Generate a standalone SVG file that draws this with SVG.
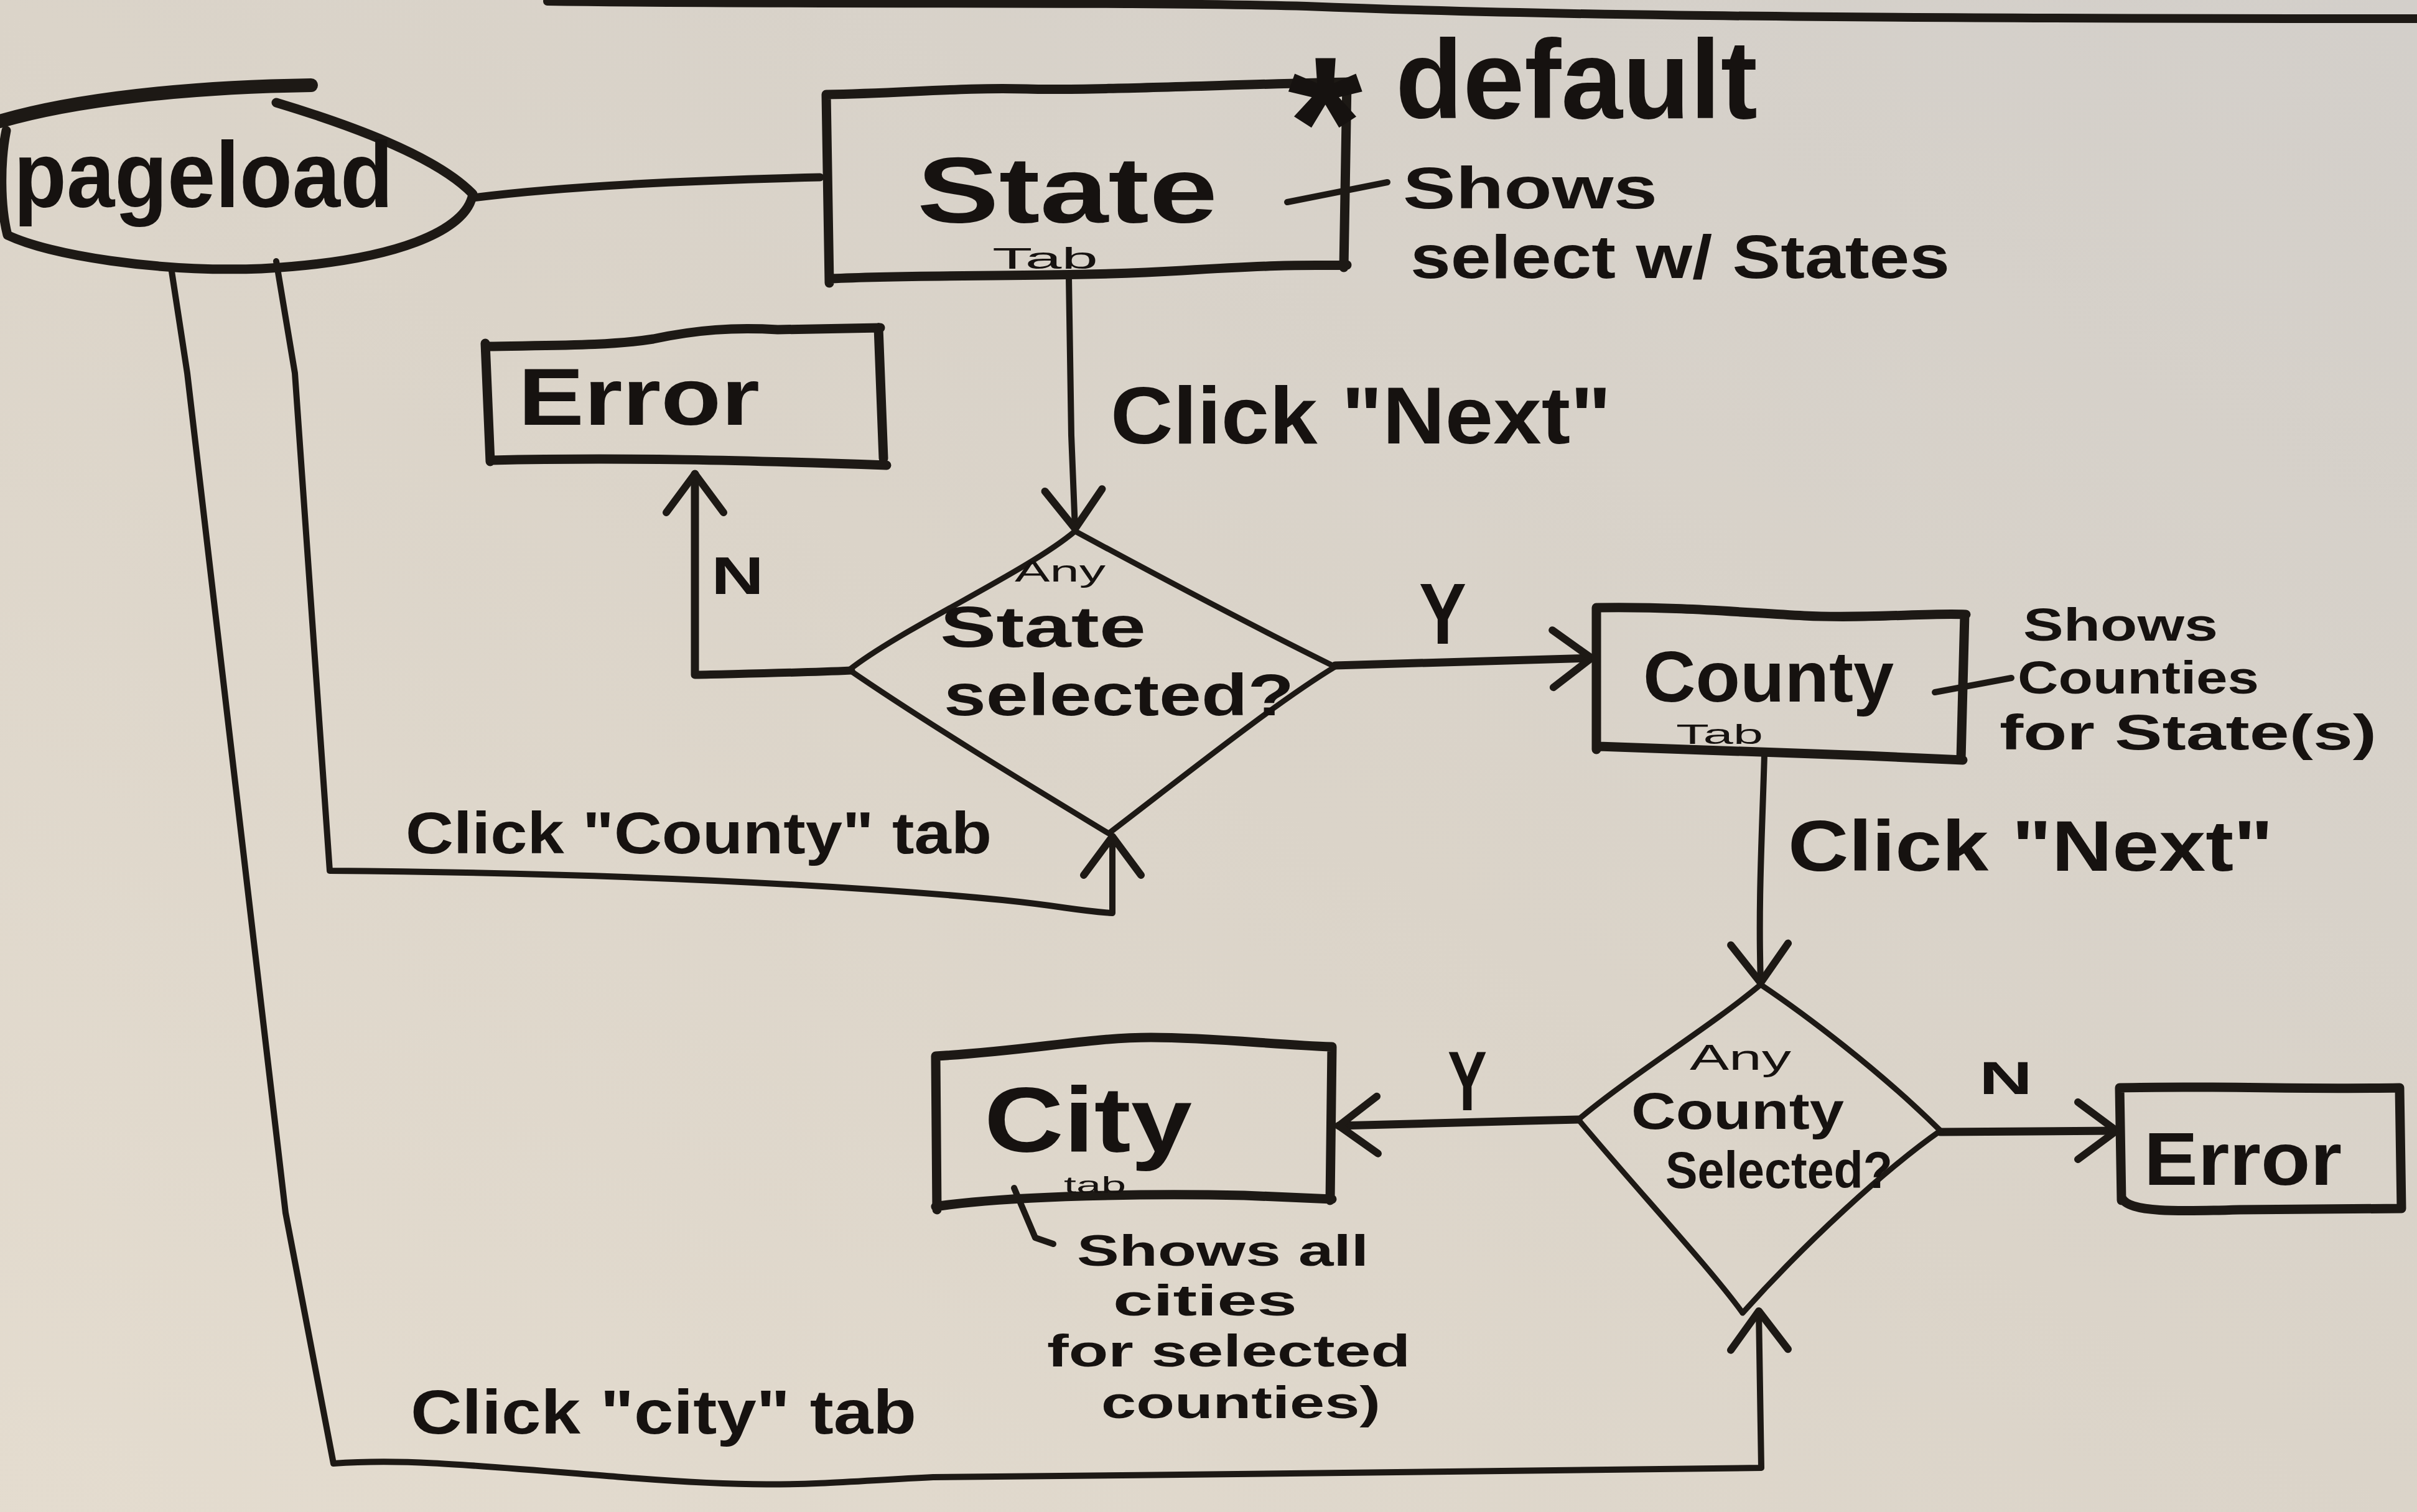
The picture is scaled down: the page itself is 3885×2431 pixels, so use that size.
<svg xmlns="http://www.w3.org/2000/svg" width="3885" height="2431" viewBox="0 0 3885 2431">
<style>
.ln{fill:none;stroke:#1d1915;stroke-linecap:round;stroke-linejoin:round}
.box{stroke-width:15}
.dia{stroke-width:9}
.con{stroke-width:10}
.thk{stroke-width:13}
.t{font-family:"Liberation Sans Narrow","Liberation Sans",Arial,sans-serif;font-weight:bold;fill:#161210}
.n{font-weight:normal}
</style>
<defs>
<linearGradient id="bg" x1="0" y1="1" x2="1" y2="0">
<stop offset="0" stop-color="#e4dccf"/>
<stop offset="0.5" stop-color="#dbd4c9"/>
<stop offset="1" stop-color="#d3cfca"/>
</linearGradient>
<marker id="arr" viewBox="-80 -60 95 120" markerWidth="95" markerHeight="120" refX="0" refY="0" orient="auto" markerUnits="userSpaceOnUse">
<path d="M-62,-46 L0,0 L-62,46" fill="none" stroke="#1d1915" stroke-width="12" stroke-linecap="round" stroke-linejoin="round"/>
</marker>
</defs>
<rect x="0" y="0" width="3885" height="2431" fill="url(#bg)"/>
<path class="ln" stroke-width="14" d="M880 2 C1300 8 1800 2 2100 10 C2400 22 2800 30 3885 30"/>

<g id="connectors">
<path class="ln thk" d="M760 318 C900 300 1100 290 1318 285"/>
<path class="ln con" d="M1718 446 L1722 700 L1728 850" marker-end="url(#arr)"/>
<path class="ln thk" d="M1368 1078 C1280 1082 1200 1083 1117 1085 L1117 762" marker-end="url(#arr)"/>
<path class="ln thk" d="M2146 1070 C2300 1065 2450 1060 2558 1058" marker-end="url(#arr)"/>
<path class="ln con" d="M2836 1214 C2832 1350 2826 1450 2830 1580" marker-end="url(#arr)"/>
<path class="ln thk" d="M2537 1800 C2400 1803 2250 1808 2152 1810" marker-end="url(#arr)"/>
<path class="ln thk" d="M3119 1820 C3200 1820 3300 1818 3402 1818" marker-end="url(#arr)"/>
<path class="ln con" d="M444 420 L474 600 L530 1400 C800 1402 1100 1410 1400 1430 S1700 1462 1788 1468 L1788 1345" marker-end="url(#arr)"/>
<path class="ln con" d="M275 430 L301 600 L459 1950 L536 2353 C650 2345 750 2355 1000 2375 S1300 2385 1500 2375 C2000 2370 2600 2365 2831 2360 L2827 2108" marker-end="url(#arr)"/>
<path class="ln con" d="M2069 325 L2230 293"/>
<path class="ln con" d="M3110 1113 L3233 1090"/>
<path class="ln con" d="M1630 1910 L1664 1990 L1693 2000"/>
<text class="t" x="1785" y="713" font-size="130" textLength="805" lengthAdjust="spacingAndGlyphs">Click "Next"</text>
<text class="t" x="2874" y="1400" font-size="115" textLength="780" lengthAdjust="spacingAndGlyphs">Click "Next"</text>
<text class="t" x="1143" y="955" font-size="85" textLength="85" lengthAdjust="spacingAndGlyphs">N</text>
<text class="t" x="2281" y="1035" font-size="140" textLength="76" lengthAdjust="spacingAndGlyphs">Y</text>
<text class="t" x="2327" y="1785" font-size="135" textLength="63" lengthAdjust="spacingAndGlyphs">Y</text>
<text class="t" x="3181" y="1759" font-size="75" textLength="86" lengthAdjust="spacingAndGlyphs">N</text>
<text class="t" x="652" y="1372" font-size="95" textLength="942" lengthAdjust="spacingAndGlyphs">Click "County" tab</text>
<text class="t" x="660" y="2305" font-size="100" textLength="813" lengthAdjust="spacingAndGlyphs">Click "city" tab</text>
</g>

<g id="pageload">
<path class="ln" stroke-width="22" d="M0 195 C120 160 300 140 500 137"/>
<path class="ln box" d="M444 165 C560 200 700 250 760 312 C750 370 640 420 420 432 C250 438 80 410 12 378 C0 330 0 260 10 210"/>
<text class="t" x="22" y="333" font-size="150" textLength="610" lengthAdjust="spacingAndGlyphs">pageload</text>
</g>

<g id="state-tab">
<path class="ln box" d="M1328 152 C1450 150 1550 140 1650 143 S2000 135 2168 132 M2165 132 L2160 430 M1335 448 C1500 440 1700 447 1900 435 S2100 428 2165 426 M1328 152 L1333 455"/>
<text class="t" x="1474" y="358" font-size="150" textLength="483" lengthAdjust="spacingAndGlyphs">State</text>
<text class="t n" x="1595" y="432" font-size="48" textLength="170" lengthAdjust="spacingAndGlyphs">Tab</text>
</g>

<g id="state-note">
<text class="t" x="2070" y="300" font-size="300" textLength="120" lengthAdjust="spacingAndGlyphs">*</text>
<text class="t" x="2243" y="190" font-size="180" textLength="582" lengthAdjust="spacingAndGlyphs">default</text>
<text class="t" x="2255" y="335" font-size="95" textLength="409" lengthAdjust="spacingAndGlyphs">Shows</text>
<text class="t" x="2267" y="447" font-size="98" textLength="867" lengthAdjust="spacingAndGlyphs">select w/ States</text>
</g>

<g id="error-1">
<path class="ln box" d="M782 557 C900 555 980 556 1050 545 C1120 530 1180 526 1250 530 L1415 527 M1412 527 L1420 737 M790 740 C1000 735 1200 740 1425 748 M780 552 L788 742"/>
<text class="t" x="833" y="683" font-size="130" textLength="388" lengthAdjust="spacingAndGlyphs">Error</text>
</g>

<g id="state-decision">
<path class="ln dia" d="M1728 854 C1650 920 1450 1010 1365 1077 C1500 1170 1700 1290 1782 1340 C1900 1250 2050 1130 2146 1072 C2000 1000 1850 920 1728 854 Z"/>
<text class="t n" x="1631" y="935" font-size="48" textLength="146" lengthAdjust="spacingAndGlyphs">Any</text>
<text class="t" x="1511" y="1040" font-size="92" textLength="331" lengthAdjust="spacingAndGlyphs">State</text>
<text class="t" x="1517" y="1150" font-size="95" textLength="563" lengthAdjust="spacingAndGlyphs">selected?</text>
</g>

<g id="county-tab">
<path class="ln box" d="M2568 977 C2700 975 2800 985 2900 990 S3100 985 3160 988 M3158 988 L3152 1220 M2570 1200 C2700 1205 2850 1210 3000 1215 L3155 1222 M2566 977 L2566 1205"/>
<text class="t" x="2641" y="1128" font-size="115" textLength="403" lengthAdjust="spacingAndGlyphs">County</text>
<text class="t n" x="2694" y="1196" font-size="44" textLength="140" lengthAdjust="spacingAndGlyphs">Tab</text>
</g>

<g id="county-note">
<text class="t" x="3252" y="1030" font-size="75" textLength="313" lengthAdjust="spacingAndGlyphs">Shows</text>
<text class="t" x="3243" y="1115" font-size="75" textLength="388" lengthAdjust="spacingAndGlyphs">Counties</text>
<text class="t" x="3214" y="1205" font-size="80" textLength="606" lengthAdjust="spacingAndGlyphs">for State(s)</text>
</g>

<g id="county-decision">
<path class="ln dia" d="M2830 1583 C2750 1650 2620 1730 2537 1800 C2620 1900 2750 2040 2801 2111 C2900 2000 3030 1880 3119 1818 C3020 1720 2900 1630 2830 1583 Z"/>
<text class="t n" x="2716" y="1720" font-size="58" textLength="163" lengthAdjust="spacingAndGlyphs">Any</text>
<text class="t" x="2622" y="1815" font-size="84" textLength="342" lengthAdjust="spacingAndGlyphs">County</text>
<text class="t" x="2677" y="1910" font-size="84" textLength="365" lengthAdjust="spacingAndGlyphs">Selected?</text>
</g>

<g id="city-tab">
<path class="ln box" d="M1504 1698 C1650 1690 1750 1668 1850 1668 S2050 1680 2141 1683 M2141 1683 L2138 1930 M1504 1940 C1600 1925 1800 1918 2000 1922 L2141 1928 M1504 1698 L1506 1945"/>
<text class="t" x="1582" y="1852" font-size="148" textLength="334" lengthAdjust="spacingAndGlyphs">City</text>
<text class="t n" x="1710" y="1918" font-size="36" textLength="100" lengthAdjust="spacingAndGlyphs">tab</text>
</g>

<g id="city-note">
<text class="t" x="1731" y="2035" font-size="70" textLength="469" lengthAdjust="spacingAndGlyphs">Shows all</text>
<text class="t" x="1789" y="2115" font-size="70" textLength="296" lengthAdjust="spacingAndGlyphs">cities</text>
<text class="t" x="1683" y="2197" font-size="72" textLength="584" lengthAdjust="spacingAndGlyphs">for selected</text>
<text class="t" x="1770" y="2280" font-size="72" textLength="449" lengthAdjust="spacingAndGlyphs">counties)</text>
</g>

<g id="error-2">
<path class="ln box" d="M3407 1749 C3550 1745 3700 1752 3857 1749 M3857 1749 L3860 1943 M3410 1925 C3420 1950 3500 1948 3600 1945 L3860 1943 M3407 1749 L3410 1930"/>
<text class="t" x="3446" y="1905" font-size="120" textLength="318" lengthAdjust="spacingAndGlyphs">Error</text>
</g>
</svg>
